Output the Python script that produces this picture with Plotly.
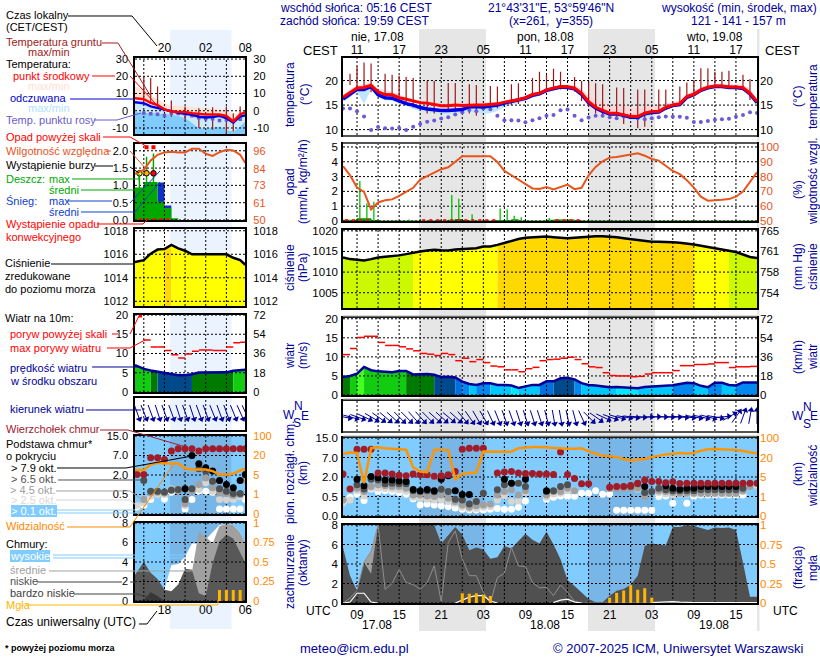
import math
import plotly.graph_objects as go

N = None
# ---------- main meteogram (hourly, hours since 17.08 00 UTC) ----------
hours = list(range(7, 67))
t_mid = [16.6,17.6,18.5,18.6,19.05,17.7,17.15,17.1,16.5,16.2,
         15.8,15.5,15.4,15.1,14.85,14.85,15.0,14.9,15.0,15.0,
         15.0,15.05,15.25,15.6,15.8,16.1,16.5,17.15,17.4,18.1,
         18.45,18.8,18.75,18.45,17.4,15.7,14.55,13.9,13.35,13.35,
         13.05,12.7,12.65,13.35,13.7,13.7,14.55,15.0,15.25,16.75,
         17.2,18.1,18.65,18.9,18.9,18.7,18.7,18.55,17.4,15.7]
t_feel = [16.2,17.2,18.2,18.2,18.8,17.1,16.5,16.4,15.8,15.3,
          15.0,14.5,14.2,14.0,13.9,13.9,14.0,14.1,14.7,14.6,
          14.6,14.8,15.0,15.4,15.7,16.0,16.4,17.0,17.3,18.0,
          18.3,18.7,18.6,18.3,17.2,15.5,14.4,13.7,13.2,13.2,
          12.9,12.5,12.5,13.2,13.5,13.6,14.4,14.9,15.1,16.6,
          17.1,18.0,18.5,18.8,18.8,18.6,18.6,18.4,17.3,15.5]
t_max = [17.1,18.2,19.0,19.3,19.6,18.4,17.9,17.7,17.1,16.6,
         16.2,16.0,15.8,15.5,15.2,15.2,15.4,15.4,15.4,15.4,
         15.4,15.5,15.6,15.9,16.1,16.4,16.8,17.5,17.8,18.5,
         18.8,19.1,19.2,19.0,18.3,16.9,16.0,15.5,15.0,14.9,
         14.8,14.5,14.3,14.7,14.9,15.0,15.3,15.6,16.0,17.2,
         17.9,18.7,19.1,19.3,19.4,19.2,19.2,19.2,18.3,16.4]
t_feel_min = [15.8,16.6,17.7,15.2,18.2,16.7,16.0,15.9,15.2,14.9,
              14.2,13.8,13.6,13.4,13.2,13.2,13.4,13.5,13.6,13.6,
              13.2,13.4,13.8,14.6,15.0,15.4,15.9,16.5,16.9,17.6,
              18.0,18.3,18.2,17.9,16.8,15.1,14.0,13.3,12.8,12.7,
              12.4,12.0,11.9,12.4,12.9,13.2,14.0,14.5,14.8,16.3,
              16.8,17.6,18.2,18.5,18.5,18.3,18.3,18.1,16.9,15.1]
t_dew = [14.3,14.3,13.75,12.65,9.9,10.55,10.3,10.2,10.35,9.9,
         10.6,11.15,11.6,11.85,12.25,12.5,13.1,13.55,14.0,13.75,
         14.3,14.15,12.8,11.9,11.9,11.85,11.5,11.9,12.3,12.85,
         13.0,13.95,14.1,12.85,11.9,12.45,12.85,12.85,12.5,12.3,
         12.65,12.5,12.3,12.1,12.3,12.5,12.65,12.6,12.6,12.4,
         11.55,11.55,11.75,12.0,12.1,12.2,12.6,13.0,13.55,13.4]
ground_hours = [8,9,10,11,13,14,15,16,17,19,20,22,23,25,26,28,29,31,32,34,35,36,
                37,38,40,41,42,43,44,46,47,49,50,52,53,55,56,57,58,59,60,61,62,64,65]
ground_max = [21.4,22.9,23.7,23.5,21.4,21.2,21.0,20.7,20.5,19.9,19.9,19.5,19.5,19.25,19.1,18.9,18.8,
              19.25,19.45,20.5,21.8,21.2,22.4,21.8,20.7,19.9,19.6,19.45,19.25,18.6,18.5,18.2,18.2,
              18.2,18.2,18.8,19.6,20.1,22.5,22.5,21.8,21.8,22.0,21.2,20.3]
ground_min = [19.1,18.4,18.6,17.6,16.2,16.05,15.7,15.0,14.5,13.3,13.3,14.0,13.7,13.3,12.8,14.0,14.35,
              15.0,15.2,16.7,17.2,18.1,18.1,18.2,17.75,15.85,14.7,13.3,12.65,12.0,11.15,10.3,10.6,
              13.7,14.0,15.0,16.7,17.1,18.1,18.6,18.9,18.9,18.9,18.1,16.05]
rh = [87,80.9,72.6,69.7,57.8,62.5,64,64.6,67,69.5,
      72.4,78,80.5,82.7,85,86.3,90.3,93.7,93.7,93.7,
      93.7,93.7,89.9,83.8,80.9,78,75.3,72,71.7,73,
      71.3,73,74.6,71.5,72.4,80.9,86.5,90.3,92.8,93.2,
      94.1,95,95.7,94.1,91.9,90.8,87.2,83.8,81.6,77.6,
      72.6,66.4,63.7,63.9,64.3,64.8,66.4,69.9,76,82.9]
rain_mean = [.05,.05,.15,.15,.03,0,0,0,0,0,
             0,0,0,0,0,.05,.1,.03,0,0,
             0,0,.03,.03,.08,0,0,0,0,.05,
             .07,.07,.07,.02,0,0,0,0,0,0,
             0,0,0,0,0,0,0,0,0,0,
             0,0,0,0,0,0,0,0,0,0]
rain_spike_h = [9.4,10.4,11.4,16.4,22.5,23.5,25.4,29.4,30.4,31.4,32.4,36.4,38.0]
rain_spike_v = [2.7,1.2,1.3,.1,1.75,1.5,.45,.85,.8,.35,.25,.2,.1]
precip_event_h = [7.5,8.5,9.5,10.5,18.5,19.5,20.5,21.5,22.5,23.5,24.5,25.5,26.5,27.5,28.5,37.5,38.5,39.5,40.5]
pressure = [1013.55,1013.15,1013,1012.8,1013.15,1013.55,1013.7,1013.8,1014.05,1014.35,
            1014.75,1015,1015.25,1015.4,1015.3,1015.25,1015.5,1015.65,1015.65,1015.8,
            1016.2,1016.2,1016.6,1017.1,1017.5,1018,1018.3,1018.4,1018.55,1018.6,
            1018.45,1018.3,1018.2,1018.3,1018.45,1018.6,1018.7,1018.7,1018.6,1018.45,
            1018.2,1018,1017.75,1017.5,1017.35,1017.35,1017.35,1017.25,1017.1,1016.95,
            1016.7,1016.4,1016.05,1015.7,1015.4,1015.15,1014.85,1014.2,1013.65,1013.4]
wind = [4.7,5,5.6,7.35,6.5,6.2,6.1,6,6.3,6.3,
        5.4,5.5,5.5,5.3,4.7,4.8,4.6,3.5,2.9,2.65,
        3.1,3.1,2.65,2.65,2.5,1.85,2.2,2.65,2.65,3.6,
        3.6,4.4,4.5,4.1,3.1,2.65,2.5,2.2,2.05,2.1,
        1.95,1.75,1.75,2.1,2.2,2.3,2.55,2.55,2.9,3.2,
        3.1,2.4,2.05,3.2,3.2,2.65,2.5,3.3,3.3,3.3]
gust = [10.6,12.2,15.1,15.4,15.4,13.8,13,13,12.65,12.1,
        11.6,10.9,10.7,10.35,10.9,10.6,9,9.65,8.75,9.3,
        8.5,7.6,7.4,6.6,6.6,6.1,6.9,7.25,9,9.3,
        9.4,9.65,9.9,9.3,8.2,7.4,7.2,5.85,5.1,5,
        5,4.8,4.9,5.5,5.85,5.85,5.85,6.4,7.7,7.7,
        8,8,8.15,8.5,8.5,7.2,7.4,7.4,7.5]
wind_dir = [280,285,290,295,300,305,310,312,315,315,
            318,318,315,312,312,310,312,320,325,330,
            330,335,338,340,340,342,342,342,342,345,
            350,350,348,345,335,315,305,295,290,285,
            280,278,275,270,268,270,272,272,275,278,
            280,283,285,280,265,240,215,200,190,180]
# cloud dots: position on the panel's stretched scale (0=0.0, 1=0.5, 2=2, 3=7, 4=15 km)
dot_top = [2.16,1.39,3.42,3.42,3.42,2.21,2.2,2.15,2.09,2.06,
           2.16,2.11,2.11,2.04,2.06,2.11,2.28,3.42,3.48,3.48,
           3.48,N,2.2,2.25,2.28,2.21,2.18,2.18,2.15,2.15,
           2.13,3.28,2.13,1.92,1.65,1.65,N,N,1.48,1.51,
           1.51,1.56,1.68,1.84,1.77,1.77,1.7,1.75,1.67,1.68,
           1.68,1.68,1.68,1.68,1.68,1.68,1.68,1.68,1.68,1.68]
dot_black = [N,N,1.89,1.55,2.03,1.96,1.85,1.85,1.8,1.77,
             1.36,1.29,1.36,1.29,1.89,2.06,1.3,1.1,1.1,N,
             N,N,N,1.89,1.68,N,1.89,N,N,1.3,
             N,N,N,N,N,N,N,N,N,N,
             N,N,N,1.51,N,N,1.55,1.42,1.37,1.42,
             1.42,1.51,1.51,1.51,1.51,1.51,1.51,N,N,N]
dot_dark = [N,N,1.6,1.39,1.89,1.85,1.65,1.68,1.65,1.65,
            1.29,1.25,1.29,1.24,1.37,1.25,.86,.82,.62,.74,
            1.17,N,1.34,1.6,1.68,1.68,1.51,N,N,1.25,
            1.29,1.51,1.6,N,N,N,N,N,N,N,
            N,1.51,1.65,1.2,1.25,1.42,1.34,1.3,1.3,1.3,
            1.3,1.34,1.34,1.34,1.34,1.34,1.34,1.42,N,N]
dot_mid = [.82,N,1.42,1.25,1.51,1.6,1.55,1.51,1.51,1.42,
           1.08,1.08,1.03,1,1.08,.91,.74,.57,.45,.52,
           .57,.62,1.08,1.25,1.34,1.08,1.3,N,N,1.08,
           1.25,1.25,1.42,1.3,N,N,N,N,1.41,1.41,
           1.41,1.41,1.42,1,N,1.3,1.25,1.2,1.17,1.17,
           1.17,1.17,1.17,1.17,1.17,1.17,1.17,1.3,1.51,N]
dot_light = [.69,.82,1.29,1.03,1.42,1.42,1.41,1.38,1.34,1.27,
             .96,.89,.86,.82,.82,.74,.65,.45,.39,.39,
             .45,.48,.82,1.03,.74,.77,1.2,N,N,.96,
             1.13,1.17,1.3,1.3,N,N,N,N,1.41,1.46,
             1.44,1.42,1.37,N,N,1.2,1.13,1.08,1.13,1.13,
             1.13,1.13,1.13,1.13,1.13,1.13,1.13,1.25,1.51,1.56]
dot_white = [.69,.96,1.13,.79,1.39,1.25,1.3,1.25,1.2,1.12,
             .89,.57,.62,.57,.52,.48,.41,.34,.31,.31,
             .31,.34,.39,.34,.34,.45,.77,N,N,.86,
             .96,1.03,1.01,1.01,1.17,1.17,1.3,1.12,1.13,.29,
             .29,.29,.29,.29,.29,1,1.03,.65,N,.65,
             1.01,1.08,1.08,1.08,1.08,1.08,1.08,1.08,N,N]
visibility = [3.19,3.26,3.23,1.68,3.48,3.52,3.48,3.45,3.42,3.4,
              2.49,2.28,2.25,3.4,3.4,3.38,1.89,2.15,2.2,2.23,
              3.31,3.31,3.31,3.31,3.3,3.48,3.52,3.54,3.54,3.52,
              3.48,3.45,3.45,3.45,3.47,3.31,3.18,3.09,3.06,3.02,
              2.92,2.85,2.88,2.92,3.02,3.09,3.16,3.19,3.23,3.21,
              3.23,3.35,3.42,3.43,3.42,3.4,3.38,3.33,3.28,3.21]
cloud_low = [5.7,2.8,1.26,4.15,3.0,8,8,8,8,8,
             8,8,8,8,6.1,7.0,7.8,7.0,5.4,5.7,
             5.5,4.55,4.7,5.85,5.6,6.35,7.1,6.5,6.1,7.3,
             6.0,4.5,2.35,1.75,1.1,.4,.07,.07,.75,1.26,
             1.43,1.87,2.8,5.85,6.1,6.0,5.9,7.8,7.8,8.0,
             7.9,7.7,7.5,7.75,7.7,7.75,7.5,4.15,.65,.65]
cloud_mid = [0,.5,1.3,4.2,5.3,8,1.4,2.0,3.45,2.1,
             1.9,1.4,2.1,3.8,.15,6.2,7.4,4.5,2.8,2.8,
             1.1,0,2.6,3.05,5.7,3.8,3.75,2.1,1.55,1.6,
             .75,1.85,1.1,.15,0,0,0,0,0,0,
             0,0,0,0,0,0,0,0,0,0,
             0,0,0,0,0,0,0,0,0,0]
cloud_high = [0,.1,1,1,.1,0,N,N,N,N,
              N,N,N,N,N,N,0,.3,.6,.75,
              .75,.2,0,N,N,N,N,N,N,N,
              .05,.3,.4,.1,0,N,N,N,N,N,
              N,N,N,N,.05,.1,.1,.15,.1,.05,
              .05,.05,.05,.05,.05,.05,.05,.05,.05,.05]
cloud_vlow_h = [23,24,25,26,27,28]
cloud_vlow = [0,.25,.55,.7,.7,.1]
fog_h = [24,25,26,27,28,45,46,47,48,49,50,51]
fog = [.125,.12,.125,.11,.09,.07,.13,.16,.23,.17,.19,.07]

# ---------- small (close-up) meteogram ----------
s_hours = [13.72,15,16,17,18,19,20,21,22,23,24,25,26,27,28,29,29.75]
s_dot_h = [14,15,16,17,18,19,20,21,22,23,24,25,26,27,28,29,29.75]
s_mid = [7.3,6.7,4.6,3.3,.8,-.5,-.7,-.7,-1.5,-2,-2.2,-2.2,-2.2,-3,-6.2,-2.2,-.8]
s_feel = [5,4.4,2.5,1.5,.6,-.5,-1.2,-1.7,-2.3,-3.5,-3.9,-3.7,-2.9,-4.3,-6.8,-3.3,-2.7]
s_max = [14,12.5,8.7,6.7,4.6,2.5,3,2.5,2.1,1.9,1.9,.9,1.3,0,-2.3,-1,.2]
s_min = [-.8,-1,-1,-1.5,-2,-2,-3,-4,-7,-10,-10.3,-9.5,-9,-11,-12,-9,-6]
s_dew = [N,-1.3,-1.7,-2.1,-2.7,-1.5,-1.6,-1.8,-2.9,-4,-4.6,-4.6,-5.7,-5.3,-6.2,-4.9,N]
s_ground_h = [15,16,17,19,21,23,25,27,28,29]
s_ground_max = [20,19,14,6,2.5,1.5,2,2.5,-1.5,2.5]
s_ground_min = [8,4.5,1,-3.5,-5.5,-10,-11,-13.5,-12,-5]
s_rh = [80.6,83.3,89.5,93.3,94.9,95.3,94.9,94.9,97.3,97.3,94,92.6,95,96.6,96.2,93.3,87.8]
s_rain_h = [13.72,15,17,18,19,20,29.75]
s_rain = [.94,1.1,.53,.35,.05,0,0]
s_snow = [0,0,1.08,.42,0,0,0]
s_spike_h = [14.36,15.4,16.4]
s_spike = [1.4,1.83,1.92]
s_over_h = [15.4,16.4]
s_storm_h = [14.36,15.4,16.4]
s_event_h = [14.5,15.5,16.5,17.5,18.5]
s_pressure = [1015.35,1015.5,1016.05,1016.4,1016.45,1016.8,1016.5,1016.3,1016,1016,1016,1016,1016,1016,1015.7,1015.5,1015.1]
s_wind = [7,6,5.6,5.3,4.8,4.5,4.35,4.35,4.6,5.05,5.05,5.05,5.05,5.1,5.5,5.65,5.8]
s_gust_h = [15,16,17,18,19,20,21,22,23,24,25,26,27,28,29]
s_gust = [13.5,11.7,11.7,10.8,9.7,8.8,9.9,10.6,10.9,10.9,10.8,10.8,11.7,12.8,12.9]
s_dir = [340,338,340,342,340,340,342,340,342,340,340,338,340,340,338,336,335]
s_top = [2.03,2.03,2.88,2.88,2.8,3.23,3.35,3.35,3.35,3.23,3.35,3.35,3.35,3.35,3.35,3.35,3.35]
s_black = [N,N,N,N,N,N,N,1.29,3.0,2.58,2.37,2.2,1.72,1.51,1.34,1.72,2.03]
s_dark = [N,1.72,1.17,1.17,1.13,1.22,1.25,.74,1.29,2.32,2.2,1.68,1.3,1.17,1.05,1.05,N]
s_midd = [N,.74,1.08,1.12,1.08,1.25,1.17,.53,1.17,1.51,1.85,1.34,1.08,1.05,.95,1.0,1.73]
s_light = [.43,.57,.91,1.0,1.0,1.29,1.25,.43,1.17,1.25,1.6,1.17,.74,.74,.74,.88,N]
s_white = [.36,.45,.74,N,.77,1.11,N,.26,.74,1.17,1.17,1.11,.26,.26,.26,.26,.74]
s_vis = [2.25,2.25,2.54,2.63,2.59,2.59,2.59,2.33,2.28,2.28,2.28,2.2,2.03,2.03,2.07,2.23,2.32]
s_low = [2.7,4,2.9,2.25,1.15,1,1.7,3.3,3.2,.8,.5,3.9,6.1,6.8,6.4,5,3.9]
s_midc = [0,0,0,0,0,0,.5,3.2,3,7.1,6.6,5.9,7.7,7.9,7.8,7,5.9]
s_high = [0,0,0,0,1.15,3.7,3.8,4.6,5.9,5.9,6.3,7.1,7.8,7.9,7.8,7,5.9]
s_vlow = [0,.1,.9,.5,0,0,0,0,0,0,0,0,0,0,0,0,0]
s_fog_h = [26,27,28,29]
s_fog = [.14,.14,.14,.14]

# ---------- tick labels ----------
utc_ticks = [9,15,21,27,33,39,45,51,57,63]
cest_labels = ['11','17','23','05','11','17','23','05','11','17']
utc_labels = ['09','15','21','03','09','15','21','03','09','15']
base_ticks = [0,1,2,3,4]
base_left = ['0.0','0.5','2.0','7.0','15.0']
base_right = ['0','1','5','20','100']

W, H = 820, 660
FONT = 'Liberation Sans'
NAVY = '#000099'
ORANGE = '#ff8800'
RHCOL = '#e8541c'
SKY = '#80ccff'
NIGHT_SKY = '#78b6e8'
MX = (343, 757); SX = (135, 245.3)
MR = (7, 66); SR = (13.72, 29.75)
main_grid_x = list(range(9, 66, 3))
small_grid_x = [15, 18, 21, 24, 27]

fig = go.Figure()
layout = {}
shapes = []
annots = []
pid = {}
def px(x): return x / W
def py(y): return 1 - y / H

def panel(i, xbox, ybox, xr, yr, yt=None, yl=None, rr=None, rt=None, rl=None, rcol='black',
          xt=None, xl=None, xside='bottom', small=False, xstand=0):
    sx = '' if i == 1 else str(i)
    fs = 11 if small else 11.5
    layout[f'xaxis{sx}'] = dict(domain=[px(xbox[0]), px(xbox[1])], range=list(xr), anchor=f'y{sx}',
        showline=True, mirror=True, linecolor='black', linewidth=1.5, showgrid=False, zeroline=False,
        ticks='', side=xside, tickmode='array', tickvals=xt or [], ticktext=xl or [],
        showticklabels=bool(xt), tickfont=dict(family=FONT, size=12, color='black'), fixedrange=True,
        ticklabelstandoff=xstand)
    layout[f'yaxis{sx}'] = dict(domain=[py(ybox[1]), py(ybox[0])], range=list(yr), anchor=f'x{sx}',
        showline=True, mirror=True, linecolor='black', linewidth=1.5, showgrid=False, zeroline=False,
        ticks='', tickmode='array', tickvals=yt or [], ticktext=yl or [], showticklabels=bool(yt),
        tickfont=dict(family=FONT, size=fs, color='black'), fixedrange=True,
        ticklabelstandoff=3 if small else 1)
    if rt:
        j = i + 14
        layout[f'yaxis{j}'] = dict(overlaying=f'y{sx}', side='right', anchor=f'x{sx}', range=list(rr or yr),
            showgrid=False, zeroline=False, showline=False, ticks='', tickmode='array', tickvals=rt, ticktext=rl,
            tickfont=dict(family=FONT, size=fs, color=rcol), fixedrange=True,
            ticklabelstandoff=7 if small else 2)
        fig.add_trace(go.Scatter(x=[None], y=[None], xaxis=f'x{sx}', yaxis=f'y{j}', mode='lines',
                                 hoverinfo='skip', showlegend=False))
    pid[i] = dict(x=f'x{sx}', y=f'y{sx}', r=f'y{j}' if rt else None, xr=xr, yr=yr,
                  gx=small_grid_x if small else main_grid_x, gy=yt or [])

def add(i, right=False, **kw):
    p = pid[i]
    kw.setdefault('mode', 'lines')
    fig.add_trace(go.Scatter(xaxis=p['x'], yaxis=p['r'] if right else p['y'], hoverinfo='skip',
                             showlegend=False, **kw))

def grid(i):
    p = pid[i]
    xs, ys = [], []
    for g in p['gx']:
        xs += [g, g, None]; ys += [p['yr'][0], p['yr'][1], None]
    for g in p['gy']:
        xs += [p['xr'][0], p['xr'][1], None]; ys += [g, g, None]
    add(i, x=xs, y=ys, line=dict(color='black', width=1, dash='2px,2px'))

def band(i, x, low, high, color):
    add(i, x=x, y=low, line=dict(width=0, color=color))
    add(i, x=x, y=high, line=dict(width=0, color=color), fill='tonexty', fillcolor=color)

def segs(i, x, y, colfn):
    k = 0
    n = len(x)
    while k < n - 1:
        c = colfn(y[k + 1])
        e = k + 1
        while e < n - 1 and colfn(y[e + 1]) == c:
            e += 1
        add(i, x=x[k:e + 1], y=y[k:e + 1], fill='tozeroy', fillcolor=c, line=dict(width=0.6, color=c))
        k = e

def pres_col(v):
    if v < 1015: return '#ccf800'
    if v < 1016.7: return '#ffff00'
    return '#ffd800'

def wind_col(v):
    if v < 2.0: return '#00e8ff'
    if v < 2.7: return '#00c8ff'
    if v < 3.5: return '#0088f0'
    if v < 4.0: return '#0070e0'
    if v < 5.0: return '#004a8c'
    if v < 5.6: return '#007a00'
    if v < 7.0: return '#11cc11'
    return '#44ff22'

def vlines(i, x, lo, hi, color, width, right=False):
    xs, ys = [], []
    for a, b, c in zip(x, lo, hi):
        xs += [a, a, None]; ys += [b, c, None]
    add(i, right=right, x=xs, y=ys, line=dict(color=color, width=width))

def dashes(i, x, y, color):
    xs, ys = [], []
    for a, b in zip(x, y):
        xs += [a, a + 1, None]; ys += [b, b, None]
    add(i, x=xs, y=ys, line=dict(color=color, width=1.5))

def arrows(i, x, dirs, xbox, ybox, xr, yc, L=13):
    w_h = (xbox[1] - xbox[0]) / (xr[1] - xr[0])
    h_px = ybox[1] - ybox[0]
    xs, ys, hx, hy, ang = [], [], [], [], []
    for a, d in zip(x, dirs):
        t = math.radians(d + 180)
        dx, dy = math.sin(t) * L / 2, math.cos(t) * L / 2
        xs += [a - dx / w_h, a + dx / w_h, None]
        ys += [yc - dy / h_px, yc + dy / h_px, None]
        hx.append(a + dx / w_h); hy.append(yc + dy / h_px); ang.append((d + 180) % 360)
    add(i, x=xs, y=ys, line=dict(color=NAVY, width=1))
    add(i, x=hx, y=hy, mode='markers', marker=dict(symbol='triangle-up', size=6, color=NAVY, angle=ang))

def dots(i, x, lists):
    for vals, col in lists:
        add(i, x=x, y=vals, mode='markers', marker=dict(size=7, color=col))

def sky(i, ranges):
    p = pid[i]
    shapes.append(dict(type='rect', layer='below', xref=p['x'], yref=p['y'] + ' domain',
                       x0=p['xr'][0], x1=p['xr'][1], y0=0, y1=1, fillcolor=SKY, line=dict(width=0)))
    for a, b in ranges:
        shapes.append(dict(type='rect', layer='below', xref=p['x'], yref=p['y'] + ' domain',
                           x0=a, x1=b, y0=0, y1=1, fillcolor=NIGHT_SKY, line=dict(width=0)))

# ---- night bands (first, so that panel backgrounds lie over them) ----
for x0, x1, c in [(170, 231.5, '#ebf3ff')]:
    shapes.append(dict(type='rect', layer='below', xref='paper', yref='paper', x0=px(x0), x1=px(x1),
                       y0=py(629), y1=py(30), fillcolor=c, line=dict(width=0)))
for x0, x1 in [(419, 486), (588, 655), (757, 759.5)]:
    shapes.append(dict(type='rect', layer='below', xref='paper', yref='paper', x0=px(x0), x1=px(x1),
                       y0=py(631), y1=py(29), fillcolor='#e6e6e6', line=dict(width=0)))

# ---- panels: small column ----
panel(1, SX, (57.5, 134), SR, (-13.5, 30.9), [-10,0,10,20,30], ['-10','0','10','20','30'],
      None, [-10,0,10,20,30], ['-10','0','10','20','30'], 'black', [18,24,29.75], ['20','02','08'], 'top', True, -1)
panel(2, SX, (143.5, 220), SR, (0, 2.21), [0,.5,1,1.5,2], ['0.0','0.5','1.0','1.5','2.0'],
      (50, 100.8), [50,61,73,84,96], ['50','61','73','84','96'], RHCOL, small=True)
panel(3, SX, (229, 306), SR, (1011.6, 1018.15), [1012,1014,1016,1018], ['1012','1014','1016','1018'],
      None, [1012,1014,1016,1018], ['1012','1014','1016','1018'], small=True)
panel(4, SX, (315, 392), SR, (0, 20), [0,5,10,15,20], ['0','5','10','15','20'],
      None, [0,5,10,15,20], ['0','18','36','54','72'], small=True)
panel(5, SX, (398, 430), SR, (0, 1), small=True)
panel(6, SX, (436, 514), SR, (0, 4), base_ticks, base_left, None, base_ticks, base_right, ORANGE, small=True)
panel(7, SX, (523, 601), SR, (0, 8), [0,2,4,6,8], ['0','2','4','6','8'],
      (0, 1), [0,.25,.5,.75,1], ['0','0.25','0.5','0.75','1'], ORANGE, [18,24,29.75], ['18','00','06'], small=True, xstand=-3)
# ---- panels: main column ----
panel(8, MX, (57.5, 135), MR, (8.9, 24.7), [10,15,20], ['10','15','20'], None, [10,15,20], ['10','15','20'],
      'black', utc_ticks, cest_labels, 'top', xstand=-3)
panel(9, MX, (144, 221), MR, (0, 5.2), [0,1,2,3,4,5], ['0','1','2','3','4','5'],
      (50, 102), [50,60,70,80,90,100], ['50','60','70','80','90','100'], RHCOL)
panel(10, MX, (230, 308), MR, (1001.3, 1020.2), [1005,1010,1015,1020], ['1005','1010','1015','1020'],
      None, [1005,1010,1015,1020], ['754','758','761','765'])
panel(11, MX, (318, 395), MR, (0, 20.2), [0,5,10,15,20], ['0','5','10','15','20'],
      None, [0,5,10,15,20], ['0','18','36','54','72'])
panel(12, MX, (401, 431), MR, (0, 1))
panel(13, MX, (438, 516), MR, (0, 4), base_ticks, base_left, None, base_ticks, base_right, ORANGE)
panel(14, MX, (525, 603), MR, (0, 8), [0,2,4,6,8], ['0','2','4','6','8'],
      (0, 1), [0,.25,.5,.75,1], ['0','0.25','0.5','0.75','1'], ORANGE, utc_ticks, utc_labels)

# ---- P1 / M1 temperature ----
floor_s = [-13.5] * len(s_hours)
band(1, s_hours, floor_s, s_min, SKY)
band(1, s_hours, s_min, s_feel, '#cbe9fb')
band(1, s_hours, s_mid, s_max, '#ffe3d6')
grid(1)
vlines(1, s_ground_h, s_ground_min, s_ground_max, '#a01818', 1.2)
add(1, x=s_dot_h, y=s_dew, mode='markers', marker=dict(symbol='square', size=3.5, color='#6a5acd'))
add(1, x=s_hours, y=s_feel, line=dict(color='#0000e6', width=2.5))
add(1, x=s_hours, y=s_mid, line=dict(color='#ff0000', width=2.5))

band(8, hours, t_feel_min, t_feel, '#bfe6ff')
band(8, hours, t_mid, t_max, '#ffd6d8')
grid(8)
vlines(8, ground_hours, ground_min, ground_max, '#a01818', 1.2)
add(8, x=hours, y=t_dew, mode='markers', marker=dict(size=4, color='#6a5ad8'))
add(8, x=hours, y=t_feel, line=dict(color='#0000e6', width=3.5))
add(8, x=hours, y=t_mid, line=dict(color='#ff0000', width=3))

# ---- P2 / M2 precipitation + humidity ----
add(2, x=s_rain_h, y=s_snow, fill='tozeroy', fillcolor='#1030c8', line=dict(shape='hv', width=0, color='#1030c8'))
add(2, x=s_rain_h, y=s_rain, fill='tozeroy', fillcolor='#00a800', line=dict(shape='hv', width=0, color='#00a800'))
grid(2)
vlines(2, s_spike_h, [0,0,0], s_spike, '#00a800', 1.5)
add(2, x=s_over_h, y=[2.1,2.1], mode='markers', marker=dict(symbol='square', size=4, color='#ff0000'))
add(2, x=s_storm_h, y=[1.35,1.35,1.35], mode='markers',
    marker=dict(size=5.5, color=['#ffff00','#ffb000','#ff0000'], line=dict(color='black', width=1)))
add(2, x=s_event_h, y=[0.01]*5, mode='markers', marker=dict(symbol='square', size=3, color='#ff0000'))
add(2, right=True, x=s_hours, y=s_rh, line=dict(color=RHCOL, width=2))

add(9, x=hours, y=rain_mean, fill='tozeroy', fillcolor='#00a000', line=dict(shape='hv', width=1, color='#00a000'))
grid(9)
vlines(9, rain_spike_h, [0]*len(rain_spike_h), rain_spike_v, '#00c000', 1.3)
add(9, x=precip_event_h, y=[0.02]*len(precip_event_h), mode='markers',
    marker=dict(symbol='square', size=3, color='#ff0000'))
add(9, right=True, x=hours, y=rh, line=dict(color=RHCOL, width=2))

# ---- P3 / M3 pressure ----
segs(3, s_hours, s_pressure, pres_col)
grid(3)
add(3, x=s_hours, y=s_pressure, line=dict(color='black', width=2.5))
segs(10, hours, pressure, pres_col)
grid(10)
add(10, x=hours, y=pressure, line=dict(color='black', width=2.5))

# ---- P4 / M4 wind ----
segs(4, s_hours, s_wind, wind_col)
grid(4)
dashes(4, s_gust_h, s_gust, '#ff0000')
add(4, x=[14.5], y=[19.8], mode='markers', marker=dict(symbol='square', size=3.5, color='#ff0000'))
add(4, x=s_hours, y=s_wind, line=dict(color=NAVY, width=2.5))
segs(11, hours, wind, wind_col)
grid(11)
dashes(11, hours[:len(gust)], gust, '#ff0000')
add(11, x=hours, y=wind, line=dict(color=NAVY, width=2.5))

# ---- wind direction ----
grid(5)
arrows(5, s_dot_h, s_dir, SX, (398, 430), SR, 0.56, L=15)
grid(12)
arrows(12, hours, wind_dir, MX, (401, 431), MR, 0.47, L=14)

# ---- cloud levels + visibility ----
sky(6, [(18.8, 27.7)])
grid(6)
dots(6, s_dot_h, [(s_white,'#ffffff'),(s_light,'#d8d4d0'),(s_midd,'#a0a0a0'),(s_dark,'#505050'),(s_black,'#000000'),(s_top,'#a01c28')])
add(6, right=True, x=s_hours, y=s_vis, line=dict(color='#ff9400', width=2.5))

sky(13, [(18, 27.27), (42, 51.27)])
grid(13)
dots(13, hours, [(dot_white,'#ffffff'),(dot_light,'#d8d4d0'),(dot_mid,'#a0a0a0'),(dot_dark,'#505050'),(dot_black,'#000000'),(dot_top,'#a01c28')])
add(13, right=True, x=hours, y=visibility, line=dict(color='#ff9400', width=2.5))

# ---- cloud cover + fog ----
sky(7, [(18.8, 27.7)])
add(7, x=s_hours, y=s_high, fill='tozeroy', fillcolor='#ffffff', line=dict(width=0, color='#ffffff'))
add(7, x=s_hours, y=s_midc, fill='tozeroy', fillcolor='#a0a0a0', line=dict(width=0, color='#a0a0a0'))
add(7, x=s_hours, y=s_low, fill='tozeroy', fillcolor='#585858', line=dict(width=0, color='#585858'))
add(7, x=s_hours, y=s_vlow, fill='tozeroy', fillcolor='#383838', line=dict(width=0, color='#383838'))
grid(7)
vlines(7, s_fog_h, [0]*4, s_fog, '#ffb400', 3, right=True)

sky(14, [(18, 27.27), (42, 51.27)])
add(14, x=hours, y=cloud_mid, fill='tozeroy', fillcolor='#a0a0a0', line=dict(width=0, color='#a0a0a0'))
add(14, x=hours, y=cloud_low, fill='tozeroy', fillcolor='#505050', line=dict(width=0, color='#505050'))
add(14, x=cloud_vlow_h, y=cloud_vlow, fill='tozeroy', fillcolor='#3c3c3c', line=dict(width=0, color='#3c3c3c'))
grid(14)
add(14, x=hours, y=cloud_mid, line=dict(color='#8f8f8f', width=1))
add(14, x=hours, y=cloud_high, line=dict(color='#ffffff', width=1.2))
vlines(14, fog_h, [0]*len(fog_h), fog, '#ffb400', 3, right=True)

# ---- leader lines ----
def leader(pts, col, w=1):
    d = 'M ' + ' L '.join(f'{px(a):.5f} {py(b):.5f}' for a, b in pts)
    shapes.append(dict(type='path', path=d, xref='paper', yref='paper', layer='above', line=dict(color=col, width=w)))

D = '#a02020'; R = '#ff0000'; G = '#00a800'; B = '#1040d0'; BK = 'black'
leaders = [
 ([(68,16),(132,16),(157,46)], BK), ([(102,43),(118,43),(150,95)], D),
 ([(92,76),(115,76)], R), ([(130,76),(155,103)], R), ([(70,99),(135,99)], '#0000cc'),
 ([(94,120),(117,120),(141,113)], '#6a5acd'), ([(103,137),(130,137),(146,146)], R),
 ([(106,151),(111,151)], RHCOL), ([(130,151),(147,170)], RHCOL),
 ([(95,166),(113,166)], BK), ([(130,167),(139,173)], BK),
 ([(72,179),(139,179),(139,174)], G), ([(81,190),(150,190)], G),
 ([(68,201),(112,201)], B), ([(130,203),(160,171)], B), ([(81,212),(135,212),(160,182)], B),
 ([(97,224),(143,224),(147,220)], R), ([(51,264),(135,264)], BK),
 ([(112,334),(118,334)], R), ([(130,334),(139,316)], R), ([(107,348),(130,348),(145,340)], R),
 ([(92,367),(140,367)], NAVY), ([(86,410),(141,410)], NAVY),
 ([(100,430),(128,430),(186,447)], '#a02030'), ([(57,468),(126,468),(192,456)], BK),
 ([(58,480),(143,480)], '#505050'), ([(56,491),(130,491),(140,498)], '#a0a0a0'),
 ([(56,500),(130,500),(137,506)], '#d8d4d0'), ([(56,510),(135,510)], SKY), ([(56,513),(135,513)], SKY),
 ([(67,527),(130,527),(173,465)], ORANGE), ([(53,555),(186,555)], SKY), ([(53,558),(186,558)], SKY),
 ([(49,571),(193,571)], '#a0a0a0'), ([(37,582),(122,582)], '#404040'), ([(130,582),(137,582)], '#404040'),
 ([(74,594),(137,594),(150,598)], '#404040'), ([(26,605),(218,605),(218,600)], '#ffb400'),
 ([(139,624),(147,624),(157,611)], BK),
]
for pts, col in leaders:
    leader(pts, col)
# grey rules along the panel edges of the main column
for yy in (136, 143, 316.5, 399.5, 432, 436.5):
    leader([(343, yy), (757, yy)], '#707070', 1.5)

# ---- text ----
def text(x, y, s, col='black', size=11, anchor='left', angle=0, bg=None, bold=False):
    a = dict(x=px(x), y=py(y), xref='paper', yref='paper', text=f'<b>{s}</b>' if bold else s, showarrow=False,
             xanchor=anchor, yanchor='middle', font=dict(family=FONT, size=size, color=col), borderpad=0, borderwidth=0)
    if angle: a['textangle'] = angle
    if bg: a['bgcolor'] = bg
    annots.append(a)

PL = '#ffe0d0'
for row in [
 (6,15,'Czas lokalny'), (6,27,'(CET/CEST)'), (6,42,'Temperatura gruntu',D), (28,52,'max/min',D),
 (6,64,'Temperatura:'), (13,76,'punkt środkowy',R), (28,86,'max/min',PL), (10,98,'odczuwana','#0000cc'),
 (28,108,'max/min','#b0e0ff'), (6,120,'Temp. punktu rosy','#6a5acd'), (6,137,'Opad powyżej skali',R),
 (6,151,'Wilgotność względna',RHCOL), (6,165,'Wystąpienie burzy'), (6,179,'Deszcz:',G), (49,179,'max',G),
 (49,190,'średni',G), (6,201,'Śnieg:',B), (49,201,'max',B), (49,212,'średni',B),
 (6,224,'Wystąpienie opadu',R), (6,237,'konwekcyjnego',R), (5,263,'Ciśnienie'), (5,276,'zredukowane'),
 (5,289,'do poziomu morza'), (5,318,'Wiatr na 10m:'), (10,334,'poryw powyżej skali',R),
 (10,348,'max porywy wiatru',R), (10,368,'prędkość wiatru',NAVY), (10,381,'w środku obszaru',NAVY),
 (10,409,'kierunek wiatru',NAVY), (6,429,'Wierzchołek chmur','#a02030'), (6,444,'Podstawa chmur*'),
 (6,456,'o pokryciu'), (11,468,'> 7.9 okt.'), (11,479,'> 6.5 okt.','#505050'), (10,490,'> 4.5 okt.','#a0a0a0'),
 (11,500,'> 2.5 okt.','#ddd8d4'), (6,526,'Widzialność',ORANGE), (6,544,'Chmury:'),
 (10,570,'średnie','#a0a0a0'), (10,581,'niskie','#505050'), (10,593,'bardzo niskie','#404040'),
 (6,605,'Mgła','#ffb400'),
]:
    text(*row)
text(6, 622, 'Czas uniwersalny (UTC)', size=12)
text(11, 511, '> 0.1 okt.', 'white', bg=SKY)
text(10, 556, 'wysokie', 'white', bg=SKY)
text(5, 648, '* powyżej poziomu morza', size=9, bold=True)

text(280, 8, 'wschód słońca: 05:16 CEST', NAVY, size=12)
text(280, 21, 'zachód słońca: 19:59 CEST', NAVY, size=12)
text(551, 8, '21°43\'31"E, 53°59\'46"N', NAVY, anchor='center', size=12)
text(551, 21, '(x=261,  y=355)', NAVY, anchor='center', size=12)
text(817, 8, 'wysokość (min, środek, max)', NAVY, anchor='right', size=12)
text(738, 21, '121 - 141 - 157 m', NAVY, anchor='center', size=12)
for x, s in [(377,'nie, 17.08'), (545,'pon, 18.08'), (714,'wto, 19.08')]:
    text(x, 37, s, anchor='center', size=12)
text(320, 50, 'CEST', anchor='center', size=13); text(782, 50, 'CEST', anchor='center', size=13)
text(318, 611, 'UTC', anchor='center', size=12); text(785, 611, 'UTC', anchor='center', size=12)
for x, s in [(377,'17.08'), (545,'18.08'), (714,'19.08')]:
    text(x, 625, s, anchor='center', size=12)
text(300, 648, 'meteo@icm.edu.pl', NAVY, size=13)
text(553, 648, '© 2007-2025 ICM, Uniwersytet Warszawski', NAVY, size=13)

for x, y, s in [(290,95,'temperatura'), (305,95,'(°C)'), (798,97,'(°C)'), (813,97,'temperatura'),
                (290,182,'opad'), (303,182,'(mm/h, kg/m²/h)'), (798,190,'(%)'), (813,181,'wilgotność wzgl.'),
                (290,268,'ciśnienie'), (303,268,'(hPa)'), (798,267,'(mm Hg)'), (813,267,'ciśnienie'),
                (290,356,'wiatr'), (303,356,'(m/s)'), (798,357,'(km/h)'), (813,357,'wiatr'),
                (290,473,'pion. rozciągł. chm.'), (303,473,'(km)'), (798,474,'(km)'), (813,476,'widzialność'),
                (290,572,'zachmurzenie'), (303,563,'(oktanty)'), (798,568,'(frakcja)'), (813,568,'mgła')]:
    text(x, y, s, NAVY, size=12, anchor='center', angle=-90)
for x, y, s in [(298,406,'N'), (289,415,'W'), (305,416,'E'), (297,423,'S'),
                (807,407,'N'), (798,416,'W'), (814,416,'E'), (807,424,'S')]:
    text(x, y, s, NAVY, size=12, anchor='center')

fig.update_layout(width=W, height=H, autosize=False, margin=dict(l=0, r=0, t=0, b=0, pad=0, autoexpand=False),
                  paper_bgcolor='white', plot_bgcolor='rgba(0,0,0,0)', showlegend=False,
                  hovermode=False, font=dict(family=FONT), shapes=shapes, annotations=annots, **layout)
fig.write_html('out.html', config={'displayModeBar': False},
               post_script="var s=document.createElement('style');s.innerHTML='html,body{margin:0;padding:0;overflow:hidden}';document.head.appendChild(s);")
